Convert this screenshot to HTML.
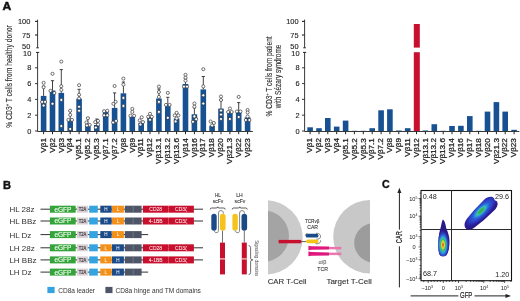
<!DOCTYPE html><html><head><meta charset="utf-8"><style>html,body{margin:0;padding:0;background:#fff;overflow:hidden}svg{display:block;will-change:transform}text{font-family:"Liberation Sans", sans-serif}</style></head><body>
<svg width="520" height="301" viewBox="0 0 520 301">
<rect width="520" height="301" fill="#fff"/>
<text transform="translate(2.5 9.8) scale(1.12 1)" font-size="10.8" font-weight="bold" fill="#111" stroke="#111" stroke-width="0.45">A</text>
<text x="3.1" y="188.6" font-size="11.1" font-weight="bold" fill="#111" stroke="#111" stroke-width="0.4">B</text>
<text x="382.1" y="188.3" font-size="10.6" font-weight="bold" fill="#111" stroke="#111" stroke-width="0.4">C</text>
<g stroke="#222" stroke-width="0.9" fill="none">
<path d="M37.6 19.6V47.6M37.6 52.5V131.5H252.9"/>
<path d="M35.0 21.4H37.6" stroke-width="1.1"/>
<path d="M35.0 35.0H37.6" stroke-width="1.1"/>
<path d="M36.3 47.8H38.9M36.0 52.4H39.2" stroke-width="1"/>
<path d="M35.0 131.0H37.6"/>
<path d="M35.0 115.2H37.6"/>
<path d="M35.0 99.4H37.6"/>
<path d="M35.0 83.6H37.6"/>
<path d="M35.0 67.8H37.6"/>
<path d="M43.6 131.5V134.2" stroke-width="1"/>
<path d="M52.5 131.5V134.2" stroke-width="1"/>
<path d="M61.3 131.5V134.2" stroke-width="1"/>
<path d="M70.2 131.5V134.2" stroke-width="1"/>
<path d="M79.1 131.5V134.2" stroke-width="1"/>
<path d="M87.9 131.5V134.2" stroke-width="1"/>
<path d="M96.8 131.5V134.2" stroke-width="1"/>
<path d="M105.7 131.5V134.2" stroke-width="1"/>
<path d="M114.6 131.5V134.2" stroke-width="1"/>
<path d="M123.4 131.5V134.2" stroke-width="1"/>
<path d="M132.3 131.5V134.2" stroke-width="1"/>
<path d="M141.2 131.5V134.2" stroke-width="1"/>
<path d="M150.0 131.5V134.2" stroke-width="1"/>
<path d="M158.9 131.5V134.2" stroke-width="1"/>
<path d="M167.8 131.5V134.2" stroke-width="1"/>
<path d="M176.6 131.5V134.2" stroke-width="1"/>
<path d="M185.5 131.5V134.2" stroke-width="1"/>
<path d="M194.4 131.5V134.2" stroke-width="1"/>
<path d="M203.3 131.5V134.2" stroke-width="1"/>
<path d="M212.1 131.5V134.2" stroke-width="1"/>
<path d="M221.0 131.5V134.2" stroke-width="1"/>
<path d="M229.9 131.5V134.2" stroke-width="1"/>
<path d="M238.7 131.5V134.2" stroke-width="1"/>
<path d="M247.6 131.5V134.2" stroke-width="1"/>
</g>
<g font-size="7.4" fill="#222" stroke="#222" stroke-width="0.12" text-anchor="end">
<text x="30.3" y="24.0">100</text>
<text x="30.3" y="37.8">75</text>
<text x="30.3" y="48.8">50</text>
<text x="31.3" y="133.6">0</text>
<text x="31.3" y="117.8">2</text>
<text x="31.3" y="102.0">4</text>
<text x="31.3" y="86.2">6</text>
<text x="31.3" y="70.4">8</text>
<text x="31.3" y="55.8">10</text>
</g>
<g font-size="7.4" fill="#222" stroke="#222" stroke-width="0.26" text-anchor="end">
<text transform="translate(45.80 138.1) rotate(-90) scale(1.1 1)">Vβ1</text>
<text transform="translate(54.67 138.1) rotate(-90) scale(1.1 1)">Vβ2</text>
<text transform="translate(63.54 138.1) rotate(-90) scale(1.1 1)">Vβ3</text>
<text transform="translate(72.41 138.1) rotate(-90) scale(1.1 1)">Vβ4</text>
<text transform="translate(81.28 138.1) rotate(-90) scale(1.1 1)">Vβ5.1</text>
<text transform="translate(90.15 138.1) rotate(-90) scale(1.1 1)">Vβ5.2</text>
<text transform="translate(99.02 138.1) rotate(-90) scale(1.1 1)">Vβ5.3</text>
<text transform="translate(107.89 138.1) rotate(-90) scale(1.1 1)">Vβ7.1</text>
<text transform="translate(116.76 138.1) rotate(-90) scale(1.1 1)">Vβ7.2</text>
<text transform="translate(125.63 138.1) rotate(-90) scale(1.1 1)">Vβ8</text>
<text transform="translate(134.50 138.1) rotate(-90) scale(1.1 1)">Vβ9</text>
<text transform="translate(143.37 138.1) rotate(-90) scale(1.1 1)">Vβ11</text>
<text transform="translate(152.24 138.1) rotate(-90) scale(1.1 1)">Vβ12</text>
<text transform="translate(161.11 138.1) rotate(-90) scale(1.1 1)">Vβ13.1</text>
<text transform="translate(169.98 138.1) rotate(-90) scale(1.1 1)">Vβ13.2</text>
<text transform="translate(178.85 138.1) rotate(-90) scale(1.1 1)">Vβ13.6</text>
<text transform="translate(187.72 138.1) rotate(-90) scale(1.1 1)">Vβ14</text>
<text transform="translate(196.59 138.1) rotate(-90) scale(1.1 1)">Vβ16</text>
<text transform="translate(205.46 138.1) rotate(-90) scale(1.1 1)">Vβ17</text>
<text transform="translate(214.33 138.1) rotate(-90) scale(1.1 1)">Vβ18</text>
<text transform="translate(223.20 138.1) rotate(-90) scale(1.1 1)">Vβ20</text>
<text transform="translate(232.07 138.1) rotate(-90) scale(1.1 1)">Vβ21.3</text>
<text transform="translate(240.94 138.1) rotate(-90) scale(1.1 1)">Vβ22</text>
<text transform="translate(249.81 138.1) rotate(-90) scale(1.1 1)">Vβ23</text>
</g>
<g>
<path d="M43.6 95.9V86.2M42.0 86.2H45.2" stroke="#222" stroke-width="0.85" fill="none"/>
<rect x="40.8" y="95.9" width="5.6" height="35.1" fill="#175192"/>
<circle cx="43.6" cy="82.8" r="1.55" fill="#fff" stroke="#2a2a2a" stroke-width="0.65"/>
<circle cx="43.6" cy="87.2" r="1.55" fill="#fff" stroke="#2a2a2a" stroke-width="0.65"/>
<circle cx="42.1" cy="101.9" r="1.55" fill="#fff" stroke="#2a2a2a" stroke-width="0.65"/>
<circle cx="45.1" cy="101.9" r="1.55" fill="#fff" stroke="#2a2a2a" stroke-width="0.65"/>
<circle cx="43.6" cy="105.5" r="1.55" fill="#fff" stroke="#2a2a2a" stroke-width="0.65"/>
<path d="M52.5 90.5V80.7M50.9 80.7H54.1" stroke="#222" stroke-width="0.85" fill="none"/>
<rect x="49.7" y="90.5" width="5.6" height="40.5" fill="#175192"/>
<circle cx="52.5" cy="73.8" r="1.55" fill="#fff" stroke="#2a2a2a" stroke-width="0.65"/>
<circle cx="50.5" cy="90.8" r="1.55" fill="#fff" stroke="#2a2a2a" stroke-width="0.65"/>
<circle cx="54.3" cy="93.0" r="1.55" fill="#fff" stroke="#2a2a2a" stroke-width="0.65"/>
<circle cx="52.5" cy="103.7" r="1.55" fill="#fff" stroke="#2a2a2a" stroke-width="0.65"/>
<path d="M61.3 92.9V69.6M59.7 69.6H62.9" stroke="#222" stroke-width="0.85" fill="none"/>
<rect x="58.5" y="92.9" width="5.6" height="38.1" fill="#175192"/>
<circle cx="61.3" cy="61.6" r="1.55" fill="#fff" stroke="#2a2a2a" stroke-width="0.65"/>
<circle cx="61.3" cy="86.2" r="1.55" fill="#fff" stroke="#2a2a2a" stroke-width="0.65"/>
<circle cx="61.3" cy="89.9" r="1.55" fill="#fff" stroke="#2a2a2a" stroke-width="0.65"/>
<circle cx="61.3" cy="99.9" r="1.55" fill="#fff" stroke="#2a2a2a" stroke-width="0.65"/>
<circle cx="61.3" cy="126.0" r="1.55" fill="#fff" stroke="#2a2a2a" stroke-width="0.65"/>
<path d="M70.2 119.7V111.0M68.6 111.0H71.8" stroke="#222" stroke-width="0.85" fill="none"/>
<rect x="67.4" y="119.7" width="5.6" height="11.3" fill="#175192"/>
<circle cx="70.2" cy="110.7" r="1.55" fill="#fff" stroke="#2a2a2a" stroke-width="0.65"/>
<circle cx="70.2" cy="114.9" r="1.55" fill="#fff" stroke="#2a2a2a" stroke-width="0.65"/>
<circle cx="68.4" cy="119.9" r="1.55" fill="#fff" stroke="#2a2a2a" stroke-width="0.65"/>
<circle cx="72.0" cy="119.9" r="1.55" fill="#fff" stroke="#2a2a2a" stroke-width="0.65"/>
<circle cx="70.2" cy="129.0" r="1.55" fill="#fff" stroke="#2a2a2a" stroke-width="0.65"/>
<path d="M79.1 98.7V89.3M77.5 89.3H80.7" stroke="#222" stroke-width="0.85" fill="none"/>
<rect x="76.3" y="98.7" width="5.6" height="32.3" fill="#175192"/>
<circle cx="79.1" cy="85.2" r="1.55" fill="#fff" stroke="#2a2a2a" stroke-width="0.65"/>
<circle cx="79.1" cy="94.7" r="1.55" fill="#fff" stroke="#2a2a2a" stroke-width="0.65"/>
<circle cx="79.1" cy="98.5" r="1.55" fill="#fff" stroke="#2a2a2a" stroke-width="0.65"/>
<circle cx="79.1" cy="106.7" r="1.55" fill="#fff" stroke="#2a2a2a" stroke-width="0.65"/>
<circle cx="79.1" cy="110.7" r="1.55" fill="#fff" stroke="#2a2a2a" stroke-width="0.65"/>
<path d="M87.9 124.5V118.0M86.3 118.0H89.5" stroke="#222" stroke-width="0.85" fill="none"/>
<rect x="85.1" y="124.5" width="5.6" height="6.5" fill="#175192"/>
<circle cx="87.9" cy="118.2" r="1.55" fill="#fff" stroke="#2a2a2a" stroke-width="0.65"/>
<circle cx="86.4" cy="122.4" r="1.55" fill="#fff" stroke="#2a2a2a" stroke-width="0.65"/>
<circle cx="89.7" cy="124.9" r="1.55" fill="#fff" stroke="#2a2a2a" stroke-width="0.65"/>
<circle cx="86.9" cy="125.5" r="1.55" fill="#fff" stroke="#2a2a2a" stroke-width="0.65"/>
<path d="M96.8 125.0V119.0M95.2 119.0H98.4" stroke="#222" stroke-width="0.85" fill="none"/>
<rect x="94.0" y="125.0" width="5.6" height="6.0" fill="#175192"/>
<circle cx="98.0" cy="120.9" r="1.55" fill="#fff" stroke="#2a2a2a" stroke-width="0.65"/>
<circle cx="95.2" cy="122.1" r="1.55" fill="#fff" stroke="#2a2a2a" stroke-width="0.65"/>
<circle cx="98.2" cy="124.5" r="1.55" fill="#fff" stroke="#2a2a2a" stroke-width="0.65"/>
<circle cx="95.8" cy="127.5" r="1.55" fill="#fff" stroke="#2a2a2a" stroke-width="0.65"/>
<rect x="102.9" y="110.9" width="5.6" height="20.1" fill="#175192"/>
<circle cx="104.1" cy="111.2" r="1.55" fill="#fff" stroke="#2a2a2a" stroke-width="0.65"/>
<circle cx="107.3" cy="110.8" r="1.55" fill="#fff" stroke="#2a2a2a" stroke-width="0.65"/>
<circle cx="104.1" cy="115.3" r="1.55" fill="#fff" stroke="#2a2a2a" stroke-width="0.65"/>
<circle cx="107.3" cy="115.3" r="1.55" fill="#fff" stroke="#2a2a2a" stroke-width="0.65"/>
<path d="M114.6 107.9V92.9M113.0 92.9H116.2" stroke="#222" stroke-width="0.85" fill="none"/>
<rect x="111.8" y="107.9" width="5.6" height="23.1" fill="#175192"/>
<circle cx="114.6" cy="86.0" r="1.55" fill="#fff" stroke="#2a2a2a" stroke-width="0.65"/>
<circle cx="115.6" cy="101.8" r="1.55" fill="#fff" stroke="#2a2a2a" stroke-width="0.65"/>
<circle cx="113.4" cy="103.8" r="1.55" fill="#fff" stroke="#2a2a2a" stroke-width="0.65"/>
<circle cx="113.1" cy="122.5" r="1.55" fill="#fff" stroke="#2a2a2a" stroke-width="0.65"/>
<circle cx="116.1" cy="120.9" r="1.55" fill="#fff" stroke="#2a2a2a" stroke-width="0.65"/>
<path d="M123.4 93.3V82.0M121.8 82.0H125.0" stroke="#222" stroke-width="0.85" fill="none"/>
<rect x="120.6" y="93.3" width="5.6" height="37.7" fill="#175192"/>
<circle cx="123.4" cy="78.6" r="1.55" fill="#fff" stroke="#2a2a2a" stroke-width="0.65"/>
<circle cx="123.4" cy="84.6" r="1.55" fill="#fff" stroke="#2a2a2a" stroke-width="0.65"/>
<circle cx="123.4" cy="97.9" r="1.55" fill="#fff" stroke="#2a2a2a" stroke-width="0.65"/>
<circle cx="123.4" cy="105.9" r="1.55" fill="#fff" stroke="#2a2a2a" stroke-width="0.65"/>
<rect x="129.5" y="116.8" width="5.6" height="14.2" fill="#175192"/>
<circle cx="132.3" cy="108.9" r="1.55" fill="#fff" stroke="#2a2a2a" stroke-width="0.65"/>
<circle cx="132.3" cy="111.9" r="1.55" fill="#fff" stroke="#2a2a2a" stroke-width="0.65"/>
<circle cx="130.5" cy="115.8" r="1.55" fill="#fff" stroke="#2a2a2a" stroke-width="0.65"/>
<circle cx="134.1" cy="115.8" r="1.55" fill="#fff" stroke="#2a2a2a" stroke-width="0.65"/>
<rect x="138.4" y="122.8" width="5.6" height="8.2" fill="#175192"/>
<circle cx="141.7" cy="117.3" r="1.55" fill="#fff" stroke="#2a2a2a" stroke-width="0.65"/>
<circle cx="139.7" cy="120.3" r="1.55" fill="#fff" stroke="#2a2a2a" stroke-width="0.65"/>
<circle cx="143.0" cy="122.1" r="1.55" fill="#fff" stroke="#2a2a2a" stroke-width="0.65"/>
<circle cx="140.4" cy="124.5" r="1.55" fill="#fff" stroke="#2a2a2a" stroke-width="0.65"/>
<rect x="147.2" y="116.8" width="5.6" height="14.2" fill="#175192"/>
<circle cx="150.0" cy="113.8" r="1.55" fill="#fff" stroke="#2a2a2a" stroke-width="0.65"/>
<circle cx="148.2" cy="116.8" r="1.55" fill="#fff" stroke="#2a2a2a" stroke-width="0.65"/>
<circle cx="151.8" cy="116.8" r="1.55" fill="#fff" stroke="#2a2a2a" stroke-width="0.65"/>
<circle cx="150.0" cy="119.8" r="1.55" fill="#fff" stroke="#2a2a2a" stroke-width="0.65"/>
<path d="M158.9 98.5V89.0M157.3 89.0H160.5" stroke="#222" stroke-width="0.85" fill="none"/>
<rect x="156.1" y="98.5" width="5.6" height="32.5" fill="#175192"/>
<circle cx="158.9" cy="86.6" r="1.55" fill="#fff" stroke="#2a2a2a" stroke-width="0.65"/>
<circle cx="158.9" cy="92.0" r="1.55" fill="#fff" stroke="#2a2a2a" stroke-width="0.65"/>
<circle cx="158.9" cy="96.9" r="1.55" fill="#fff" stroke="#2a2a2a" stroke-width="0.65"/>
<circle cx="158.9" cy="101.9" r="1.55" fill="#fff" stroke="#2a2a2a" stroke-width="0.65"/>
<circle cx="158.9" cy="111.9" r="1.55" fill="#fff" stroke="#2a2a2a" stroke-width="0.65"/>
<path d="M167.8 104.5V97.3M166.2 97.3H169.4" stroke="#222" stroke-width="0.85" fill="none"/>
<rect x="165.0" y="104.5" width="5.6" height="26.5" fill="#175192"/>
<circle cx="167.8" cy="92.9" r="1.55" fill="#fff" stroke="#2a2a2a" stroke-width="0.65"/>
<circle cx="166.0" cy="104.9" r="1.55" fill="#fff" stroke="#2a2a2a" stroke-width="0.65"/>
<circle cx="169.6" cy="104.9" r="1.55" fill="#fff" stroke="#2a2a2a" stroke-width="0.65"/>
<circle cx="167.8" cy="117.8" r="1.55" fill="#fff" stroke="#2a2a2a" stroke-width="0.65"/>
<rect x="173.8" y="118.6" width="5.6" height="12.4" fill="#175192"/>
<circle cx="176.6" cy="112.8" r="1.55" fill="#fff" stroke="#2a2a2a" stroke-width="0.65"/>
<circle cx="174.8" cy="115.4" r="1.55" fill="#fff" stroke="#2a2a2a" stroke-width="0.65"/>
<circle cx="178.4" cy="115.4" r="1.55" fill="#fff" stroke="#2a2a2a" stroke-width="0.65"/>
<circle cx="176.6" cy="118.6" r="1.55" fill="#fff" stroke="#2a2a2a" stroke-width="0.65"/>
<circle cx="175.6" cy="121.4" r="1.55" fill="#fff" stroke="#2a2a2a" stroke-width="0.65"/>
<path d="M185.5 84.0V78.2M183.9 78.2H187.1" stroke="#222" stroke-width="0.85" fill="none"/>
<rect x="182.7" y="84.0" width="5.6" height="47.0" fill="#175192"/>
<circle cx="185.5" cy="74.8" r="1.55" fill="#fff" stroke="#2a2a2a" stroke-width="0.65"/>
<circle cx="185.5" cy="77.8" r="1.55" fill="#fff" stroke="#2a2a2a" stroke-width="0.65"/>
<circle cx="185.5" cy="80.7" r="1.55" fill="#fff" stroke="#2a2a2a" stroke-width="0.65"/>
<circle cx="184.0" cy="86.6" r="1.55" fill="#fff" stroke="#2a2a2a" stroke-width="0.65"/>
<circle cx="187.0" cy="86.6" r="1.55" fill="#fff" stroke="#2a2a2a" stroke-width="0.65"/>
<path d="M194.4 114.3V107.8M192.8 107.8H196.0" stroke="#222" stroke-width="0.85" fill="none"/>
<rect x="191.6" y="114.3" width="5.6" height="16.7" fill="#175192"/>
<circle cx="194.4" cy="103.5" r="1.55" fill="#fff" stroke="#2a2a2a" stroke-width="0.65"/>
<circle cx="194.4" cy="106.7" r="1.55" fill="#fff" stroke="#2a2a2a" stroke-width="0.65"/>
<circle cx="194.4" cy="116.4" r="1.55" fill="#fff" stroke="#2a2a2a" stroke-width="0.65"/>
<circle cx="196.2" cy="119.2" r="1.55" fill="#fff" stroke="#2a2a2a" stroke-width="0.65"/>
<circle cx="192.9" cy="121.8" r="1.55" fill="#fff" stroke="#2a2a2a" stroke-width="0.65"/>
<path d="M203.3 89.4V76.5M201.7 76.5H204.9" stroke="#222" stroke-width="0.85" fill="none"/>
<rect x="200.5" y="89.4" width="5.6" height="41.6" fill="#175192"/>
<circle cx="203.3" cy="69.2" r="1.55" fill="#fff" stroke="#2a2a2a" stroke-width="0.65"/>
<circle cx="203.3" cy="86.4" r="1.55" fill="#fff" stroke="#2a2a2a" stroke-width="0.65"/>
<circle cx="203.3" cy="95.3" r="1.55" fill="#fff" stroke="#2a2a2a" stroke-width="0.65"/>
<circle cx="203.3" cy="103.5" r="1.55" fill="#fff" stroke="#2a2a2a" stroke-width="0.65"/>
<rect x="209.3" y="125.7" width="5.6" height="5.3" fill="#175192"/>
<circle cx="210.6" cy="121.5" r="1.55" fill="#fff" stroke="#2a2a2a" stroke-width="0.65"/>
<circle cx="213.9" cy="123.0" r="1.55" fill="#fff" stroke="#2a2a2a" stroke-width="0.65"/>
<circle cx="212.1" cy="125.5" r="1.55" fill="#fff" stroke="#2a2a2a" stroke-width="0.65"/>
<path d="M221.0 108.6V100.0M219.4 100.0H222.6" stroke="#222" stroke-width="0.85" fill="none"/>
<rect x="218.2" y="108.6" width="5.6" height="22.4" fill="#175192"/>
<circle cx="221.0" cy="96.5" r="1.55" fill="#fff" stroke="#2a2a2a" stroke-width="0.65"/>
<circle cx="221.0" cy="100.0" r="1.55" fill="#fff" stroke="#2a2a2a" stroke-width="0.65"/>
<circle cx="221.0" cy="110.5" r="1.55" fill="#fff" stroke="#2a2a2a" stroke-width="0.65"/>
<circle cx="221.0" cy="114.5" r="1.55" fill="#fff" stroke="#2a2a2a" stroke-width="0.65"/>
<circle cx="221.0" cy="119.0" r="1.55" fill="#fff" stroke="#2a2a2a" stroke-width="0.65"/>
<rect x="227.1" y="112.0" width="5.6" height="19.0" fill="#175192"/>
<circle cx="229.9" cy="108.5" r="1.55" fill="#fff" stroke="#2a2a2a" stroke-width="0.65"/>
<circle cx="228.1" cy="112.0" r="1.55" fill="#fff" stroke="#2a2a2a" stroke-width="0.65"/>
<circle cx="231.7" cy="112.0" r="1.55" fill="#fff" stroke="#2a2a2a" stroke-width="0.65"/>
<circle cx="229.9" cy="119.0" r="1.55" fill="#fff" stroke="#2a2a2a" stroke-width="0.65"/>
<path d="M238.7 111.4V102.6M237.1 102.6H240.3" stroke="#222" stroke-width="0.85" fill="none"/>
<rect x="235.9" y="111.4" width="5.6" height="19.6" fill="#175192"/>
<circle cx="238.7" cy="96.9" r="1.55" fill="#fff" stroke="#2a2a2a" stroke-width="0.65"/>
<circle cx="236.9" cy="111.5" r="1.55" fill="#fff" stroke="#2a2a2a" stroke-width="0.65"/>
<circle cx="240.5" cy="111.5" r="1.55" fill="#fff" stroke="#2a2a2a" stroke-width="0.65"/>
<circle cx="238.7" cy="117.0" r="1.55" fill="#fff" stroke="#2a2a2a" stroke-width="0.65"/>
<rect x="244.8" y="117.3" width="5.6" height="13.7" fill="#175192"/>
<circle cx="247.6" cy="110.0" r="1.55" fill="#fff" stroke="#2a2a2a" stroke-width="0.65"/>
<circle cx="247.6" cy="112.5" r="1.55" fill="#fff" stroke="#2a2a2a" stroke-width="0.65"/>
<circle cx="247.6" cy="116.5" r="1.55" fill="#fff" stroke="#2a2a2a" stroke-width="0.65"/>
<circle cx="245.8" cy="120.0" r="1.55" fill="#fff" stroke="#2a2a2a" stroke-width="0.65"/>
<circle cx="249.4" cy="120.0" r="1.55" fill="#fff" stroke="#2a2a2a" stroke-width="0.65"/>
</g>
<g stroke="#222" stroke-width="0.9" fill="none">
<path d="M304.6 19.6V47.6M304.6 52.5V131.5H519.4"/>
<path d="M302.0 21.4H304.6" stroke-width="1.1"/>
<path d="M302.0 35.0H304.6" stroke-width="1.1"/>
<path d="M303.3 47.8H305.9M303.0 52.4H306.2" stroke-width="1"/>
<path d="M302.0 131.0H304.6"/>
<path d="M302.0 115.2H304.6"/>
<path d="M302.0 99.4H304.6"/>
<path d="M302.0 83.6H304.6"/>
<path d="M302.0 67.8H304.6"/>
<path d="M310.1 131.5V134.2" stroke-width="1"/>
<path d="M319.0 131.5V134.2" stroke-width="1"/>
<path d="M327.8 131.5V134.2" stroke-width="1"/>
<path d="M336.7 131.5V134.2" stroke-width="1"/>
<path d="M345.6 131.5V134.2" stroke-width="1"/>
<path d="M354.4 131.5V134.2" stroke-width="1"/>
<path d="M363.3 131.5V134.2" stroke-width="1"/>
<path d="M372.2 131.5V134.2" stroke-width="1"/>
<path d="M381.1 131.5V134.2" stroke-width="1"/>
<path d="M389.9 131.5V134.2" stroke-width="1"/>
<path d="M398.8 131.5V134.2" stroke-width="1"/>
<path d="M407.7 131.5V134.2" stroke-width="1"/>
<path d="M416.5 131.5V134.2" stroke-width="1"/>
<path d="M425.4 131.5V134.2" stroke-width="1"/>
<path d="M434.3 131.5V134.2" stroke-width="1"/>
<path d="M443.2 131.5V134.2" stroke-width="1"/>
<path d="M452.0 131.5V134.2" stroke-width="1"/>
<path d="M460.9 131.5V134.2" stroke-width="1"/>
<path d="M469.8 131.5V134.2" stroke-width="1"/>
<path d="M478.6 131.5V134.2" stroke-width="1"/>
<path d="M487.5 131.5V134.2" stroke-width="1"/>
<path d="M496.4 131.5V134.2" stroke-width="1"/>
<path d="M505.2 131.5V134.2" stroke-width="1"/>
<path d="M514.1 131.5V134.2" stroke-width="1"/>
</g>
<g font-size="7.4" fill="#222" stroke="#222" stroke-width="0.12" text-anchor="end">
<text x="298.5" y="24.0">100</text>
<text x="298.5" y="37.8">75</text>
<text x="298.5" y="48.8">50</text>
<text x="299.5" y="133.6">0</text>
<text x="299.5" y="117.8">2</text>
<text x="299.5" y="102.0">4</text>
<text x="299.5" y="86.2">6</text>
<text x="299.5" y="70.4">8</text>
<text x="299.5" y="55.8">10</text>
</g>
<g font-size="7.4" fill="#222" stroke="#222" stroke-width="0.26" text-anchor="end">
<text transform="translate(312.30 138.1) rotate(-90) scale(1.1 1)">Vβ1</text>
<text transform="translate(321.17 138.1) rotate(-90) scale(1.1 1)">Vβ2</text>
<text transform="translate(330.04 138.1) rotate(-90) scale(1.1 1)">Vβ3</text>
<text transform="translate(338.91 138.1) rotate(-90) scale(1.1 1)">Vβ4</text>
<text transform="translate(347.78 138.1) rotate(-90) scale(1.1 1)">Vβ5.1</text>
<text transform="translate(356.65 138.1) rotate(-90) scale(1.1 1)">Vβ5.2</text>
<text transform="translate(365.52 138.1) rotate(-90) scale(1.1 1)">Vβ5.3</text>
<text transform="translate(374.39 138.1) rotate(-90) scale(1.1 1)">Vβ7.1</text>
<text transform="translate(383.26 138.1) rotate(-90) scale(1.1 1)">Vβ7.2</text>
<text transform="translate(392.13 138.1) rotate(-90) scale(1.1 1)">Vβ8</text>
<text transform="translate(401.00 138.1) rotate(-90) scale(1.1 1)">Vβ9</text>
<text transform="translate(409.87 138.1) rotate(-90) scale(1.1 1)">Vβ11</text>
<text transform="translate(418.74 138.1) rotate(-90) scale(1.1 1)">Vβ12</text>
<text transform="translate(427.61 138.1) rotate(-90) scale(1.1 1)">Vβ13.1</text>
<text transform="translate(436.48 138.1) rotate(-90) scale(1.1 1)">Vβ13.2</text>
<text transform="translate(445.35 138.1) rotate(-90) scale(1.1 1)">Vβ13.6</text>
<text transform="translate(454.22 138.1) rotate(-90) scale(1.1 1)">Vβ14</text>
<text transform="translate(463.09 138.1) rotate(-90) scale(1.1 1)">Vβ16</text>
<text transform="translate(471.96 138.1) rotate(-90) scale(1.1 1)">Vβ17</text>
<text transform="translate(480.83 138.1) rotate(-90) scale(1.1 1)">Vβ18</text>
<text transform="translate(489.70 138.1) rotate(-90) scale(1.1 1)">Vβ20</text>
<text transform="translate(498.57 138.1) rotate(-90) scale(1.1 1)">Vβ21.3</text>
<text transform="translate(507.44 138.1) rotate(-90) scale(1.1 1)">Vβ22</text>
<text transform="translate(516.31 138.1) rotate(-90) scale(1.1 1)">Vβ23</text>
</g>
<g>
<rect x="307.3" y="127.3" width="5.6" height="3.7" fill="#175192"/>
<rect x="316.2" y="128.2" width="5.6" height="2.8" fill="#175192"/>
<rect x="325.0" y="118.0" width="5.6" height="13.0" fill="#175192"/>
<rect x="333.9" y="126.6" width="5.6" height="4.4" fill="#175192"/>
<rect x="342.8" y="120.6" width="5.6" height="10.4" fill="#175192"/>
<rect x="351.6" y="130.8" width="5.6" height="0.2" fill="#175192"/>
<rect x="360.5" y="130.8" width="5.6" height="0.2" fill="#175192"/>
<rect x="369.4" y="128.2" width="5.6" height="2.8" fill="#175192"/>
<rect x="378.3" y="110.3" width="5.6" height="20.7" fill="#175192"/>
<rect x="387.1" y="109.3" width="5.6" height="21.7" fill="#175192"/>
<rect x="396.0" y="130.5" width="5.6" height="0.5" fill="#175192"/>
<rect x="404.9" y="128.2" width="5.6" height="2.8" fill="#175192"/>
<rect x="413.8" y="24" width="6" height="107.0" fill="#c8102e"/>
<rect x="412" y="47.6" width="10" height="4.6" fill="#fff"/>
<rect x="422.6" y="130.5" width="5.6" height="0.5" fill="#175192"/>
<rect x="431.5" y="124.2" width="5.6" height="6.8" fill="#175192"/>
<rect x="440.4" y="130.8" width="5.6" height="0.2" fill="#175192"/>
<rect x="449.2" y="126.0" width="5.6" height="5.0" fill="#175192"/>
<rect x="458.1" y="125.8" width="5.6" height="5.2" fill="#175192"/>
<rect x="467.0" y="116.1" width="5.6" height="14.9" fill="#175192"/>
<rect x="475.8" y="130.8" width="5.6" height="0.2" fill="#175192"/>
<rect x="484.7" y="111.6" width="5.6" height="19.4" fill="#175192"/>
<rect x="493.6" y="102.1" width="5.6" height="28.9" fill="#175192"/>
<rect x="502.4" y="111.6" width="5.6" height="19.4" fill="#175192"/>
<rect x="511.3" y="129.8" width="5.6" height="1.2" fill="#175192"/>
</g>
<text transform="translate(11.5 76.4) rotate(-90)" font-size="8.4" fill="#333" stroke="#333" stroke-width="0.15" text-anchor="middle" textLength="102.5" lengthAdjust="spacingAndGlyphs">% CD3<tspan font-size="5" dy="-2.5">+</tspan><tspan dy="2.5"> T cells from healthy donor</tspan></text>
<text transform="translate(271.6 76.4) rotate(-90)" font-size="8.4" fill="#333" stroke="#333" stroke-width="0.15" text-anchor="middle" textLength="80.2" lengthAdjust="spacingAndGlyphs">% CD3<tspan font-size="5" dy="-2.5">+</tspan><tspan dy="2.5"> T cells from patient</tspan></text>
<text transform="translate(280.6 76.4) rotate(-90)" font-size="8.4" fill="#333" stroke="#333" stroke-width="0.15" text-anchor="middle" textLength="63.6" lengthAdjust="spacingAndGlyphs">with Sézary syndrome</text>
<text x="9.4" y="212.1" font-size="8" fill="#333">HL 28z</text>
<path d="M40.5 209.2H203.0" stroke="#333" stroke-width="1"/>
<rect x="49.9" y="205.7" width="25.8" height="7.0" fill="#33a33a"/>
<text x="62.9" y="211.6" font-size="6.8" fill="#f2fff2" stroke="#f2fff2" stroke-width="0.15" text-anchor="middle" textLength="17" lengthAdjust="spacingAndGlyphs">eGFP</text>
<rect x="76.9" y="205.7" width="11" height="7.0" fill="#d8ced4"/>
<text x="82.5" y="211.0" font-size="5" fill="#333" stroke="#333" stroke-width="0.15" text-anchor="middle" textLength="7.6" lengthAdjust="spacingAndGlyphs">T2A</text>
<rect x="89.2" y="205.7" width="8.6" height="7.0" fill="#35a3e0"/>
<rect x="100.3" y="205.7" width="11.4" height="7.0" fill="#1a4a88"/>
<rect x="112.0" y="205.7" width="11.9" height="7.0" fill="#f39019"/>
<text x="105.9" y="210.9" font-size="4.6" fill="#fff" text-anchor="middle">H</text>
<text x="118" y="210.9" font-size="4.6" fill="#fff" text-anchor="middle">L</text>
<rect x="124.8" y="205.7" width="16.8" height="7.0" fill="#4d5566"/>
<path d="M133.2 205.7v7.0" stroke="#8e95a2" stroke-width="0.5"/>
<rect x="142.9" y="205.7" width="51" height="7.0" fill="#c8102e"/>
<path d="M168.5 205.7V212.7" stroke="#fff" stroke-width="0.5" stroke-dasharray="1 1"/>
<text x="155.7" y="211.0" font-size="5" fill="#fff" text-anchor="middle">CD28</text>
<text x="181.2" y="211.0" font-size="5" fill="#fff" text-anchor="middle">CD3ζ</text>
<text x="9.4" y="223.9" font-size="8" fill="#333">HL BBz</text>
<path d="M40.5 221.0H203.0" stroke="#333" stroke-width="1"/>
<rect x="49.9" y="217.5" width="25.8" height="7.0" fill="#33a33a"/>
<text x="62.9" y="223.4" font-size="6.8" fill="#f2fff2" stroke="#f2fff2" stroke-width="0.15" text-anchor="middle" textLength="17" lengthAdjust="spacingAndGlyphs">eGFP</text>
<rect x="76.9" y="217.5" width="11" height="7.0" fill="#d8ced4"/>
<text x="82.5" y="222.8" font-size="5" fill="#333" stroke="#333" stroke-width="0.15" text-anchor="middle" textLength="7.6" lengthAdjust="spacingAndGlyphs">T2A</text>
<rect x="89.2" y="217.5" width="8.6" height="7.0" fill="#35a3e0"/>
<rect x="100.3" y="217.5" width="11.4" height="7.0" fill="#1a4a88"/>
<rect x="112.0" y="217.5" width="11.9" height="7.0" fill="#f39019"/>
<text x="105.9" y="222.7" font-size="4.6" fill="#fff" text-anchor="middle">H</text>
<text x="118" y="222.7" font-size="4.6" fill="#fff" text-anchor="middle">L</text>
<rect x="124.8" y="217.5" width="16.8" height="7.0" fill="#4d5566"/>
<path d="M133.2 217.5v7.0" stroke="#8e95a2" stroke-width="0.5"/>
<rect x="142.9" y="217.5" width="51" height="7.0" fill="#c8102e"/>
<path d="M168.5 217.5V224.5" stroke="#fff" stroke-width="0.5" stroke-dasharray="1 1"/>
<text x="155.7" y="222.8" font-size="5" fill="#fff" text-anchor="middle">4-1BB</text>
<text x="181.2" y="222.8" font-size="5" fill="#fff" text-anchor="middle">CD3ζ</text>
<text x="9.4" y="237.5" font-size="8" fill="#333">HL Dz</text>
<path d="M40.5 234.6H148.2" stroke="#333" stroke-width="1"/>
<rect x="49.9" y="231.1" width="25.8" height="7.0" fill="#33a33a"/>
<text x="62.9" y="237.0" font-size="6.8" fill="#f2fff2" stroke="#f2fff2" stroke-width="0.15" text-anchor="middle" textLength="17" lengthAdjust="spacingAndGlyphs">eGFP</text>
<rect x="76.9" y="231.1" width="11" height="7.0" fill="#d8ced4"/>
<text x="82.5" y="236.4" font-size="5" fill="#333" stroke="#333" stroke-width="0.15" text-anchor="middle" textLength="7.6" lengthAdjust="spacingAndGlyphs">T2A</text>
<rect x="89.2" y="231.1" width="8.6" height="7.0" fill="#35a3e0"/>
<rect x="100.3" y="231.1" width="11.4" height="7.0" fill="#1a4a88"/>
<rect x="112.0" y="231.1" width="11.9" height="7.0" fill="#f39019"/>
<text x="105.9" y="236.3" font-size="4.6" fill="#fff" text-anchor="middle">H</text>
<text x="118" y="236.3" font-size="4.6" fill="#fff" text-anchor="middle">L</text>
<rect x="124.8" y="231.1" width="16.8" height="7.0" fill="#4d5566"/>
<path d="M133.2 231.1v7.0" stroke="#8e95a2" stroke-width="0.5"/>
<text x="9.4" y="250.7" font-size="8" fill="#333">LH 28z</text>
<path d="M40.5 247.8H203.0" stroke="#333" stroke-width="1"/>
<rect x="49.9" y="244.3" width="25.8" height="7.0" fill="#33a33a"/>
<text x="62.9" y="250.2" font-size="6.8" fill="#f2fff2" stroke="#f2fff2" stroke-width="0.15" text-anchor="middle" textLength="17" lengthAdjust="spacingAndGlyphs">eGFP</text>
<rect x="76.9" y="244.3" width="11" height="7.0" fill="#d8ced4"/>
<text x="82.5" y="249.6" font-size="5" fill="#333" stroke="#333" stroke-width="0.15" text-anchor="middle" textLength="7.6" lengthAdjust="spacingAndGlyphs">T2A</text>
<rect x="89.2" y="244.3" width="8.6" height="7.0" fill="#35a3e0"/>
<rect x="100.3" y="244.3" width="11.4" height="7.0" fill="#f39019"/>
<rect x="112.0" y="244.3" width="11.9" height="7.0" fill="#1a4a88"/>
<text x="105.9" y="249.5" font-size="4.6" fill="#fff" text-anchor="middle">L</text>
<text x="118" y="249.5" font-size="4.6" fill="#fff" text-anchor="middle">H</text>
<rect x="124.8" y="244.3" width="16.8" height="7.0" fill="#4d5566"/>
<path d="M133.2 244.3v7.0" stroke="#8e95a2" stroke-width="0.5"/>
<rect x="142.9" y="244.3" width="51" height="7.0" fill="#c8102e"/>
<path d="M168.5 244.3V251.3" stroke="#fff" stroke-width="0.5" stroke-dasharray="1 1"/>
<text x="155.7" y="249.6" font-size="5" fill="#fff" text-anchor="middle">CD28</text>
<text x="181.2" y="249.6" font-size="5" fill="#fff" text-anchor="middle">CD3ζ</text>
<text x="9.4" y="262.8" font-size="8" fill="#333">LH BBz</text>
<path d="M40.5 259.9H203.0" stroke="#333" stroke-width="1"/>
<rect x="49.9" y="256.4" width="25.8" height="7.0" fill="#33a33a"/>
<text x="62.9" y="262.3" font-size="6.8" fill="#f2fff2" stroke="#f2fff2" stroke-width="0.15" text-anchor="middle" textLength="17" lengthAdjust="spacingAndGlyphs">eGFP</text>
<rect x="76.9" y="256.4" width="11" height="7.0" fill="#d8ced4"/>
<text x="82.5" y="261.7" font-size="5" fill="#333" stroke="#333" stroke-width="0.15" text-anchor="middle" textLength="7.6" lengthAdjust="spacingAndGlyphs">T2A</text>
<rect x="89.2" y="256.4" width="8.6" height="7.0" fill="#35a3e0"/>
<rect x="100.3" y="256.4" width="11.4" height="7.0" fill="#f39019"/>
<rect x="112.0" y="256.4" width="11.9" height="7.0" fill="#1a4a88"/>
<text x="105.9" y="261.6" font-size="4.6" fill="#fff" text-anchor="middle">L</text>
<text x="118" y="261.6" font-size="4.6" fill="#fff" text-anchor="middle">H</text>
<rect x="124.8" y="256.4" width="16.8" height="7.0" fill="#4d5566"/>
<path d="M133.2 256.4v7.0" stroke="#8e95a2" stroke-width="0.5"/>
<rect x="142.9" y="256.4" width="51" height="7.0" fill="#c8102e"/>
<path d="M168.5 256.4V263.4" stroke="#fff" stroke-width="0.5" stroke-dasharray="1 1"/>
<text x="155.7" y="261.7" font-size="5" fill="#fff" text-anchor="middle">4-1BB</text>
<text x="181.2" y="261.7" font-size="5" fill="#fff" text-anchor="middle">CD3ζ</text>
<text x="9.4" y="275.0" font-size="8" fill="#333">LH Dz</text>
<path d="M40.5 272.1H148.2" stroke="#333" stroke-width="1"/>
<rect x="49.9" y="268.6" width="25.8" height="7.0" fill="#33a33a"/>
<text x="62.9" y="274.5" font-size="6.8" fill="#f2fff2" stroke="#f2fff2" stroke-width="0.15" text-anchor="middle" textLength="17" lengthAdjust="spacingAndGlyphs">eGFP</text>
<rect x="76.9" y="268.6" width="11" height="7.0" fill="#d8ced4"/>
<text x="82.5" y="273.9" font-size="5" fill="#333" stroke="#333" stroke-width="0.15" text-anchor="middle" textLength="7.6" lengthAdjust="spacingAndGlyphs">T2A</text>
<rect x="89.2" y="268.6" width="8.6" height="7.0" fill="#35a3e0"/>
<rect x="100.3" y="268.6" width="11.4" height="7.0" fill="#f39019"/>
<rect x="112.0" y="268.6" width="11.9" height="7.0" fill="#1a4a88"/>
<text x="105.9" y="273.8" font-size="4.6" fill="#fff" text-anchor="middle">L</text>
<text x="118" y="273.8" font-size="4.6" fill="#fff" text-anchor="middle">H</text>
<rect x="124.8" y="268.6" width="16.8" height="7.0" fill="#4d5566"/>
<path d="M133.2 268.6v7.0" stroke="#8e95a2" stroke-width="0.5"/>
<rect x="47.4" y="286.9" width="7.2" height="6.2" fill="#35a3e0"/>
<text x="58.2" y="292.8" font-size="8" fill="#333" textLength="36.8" lengthAdjust="spacingAndGlyphs">CD8a leader</text>
<rect x="105.4" y="286.9" width="7.1" height="6.2" fill="#4d5566"/>
<text x="115.4" y="292.8" font-size="8" fill="#333" textLength="85.5" lengthAdjust="spacingAndGlyphs">CD8a hinge and TM domains</text>
<g font-size="5.8" fill="#333" stroke="#333" stroke-width="0.1" text-anchor="middle">
<text x="217.9" y="196.9" textLength="6" lengthAdjust="spacingAndGlyphs">HL</text><text x="218" y="202.9" textLength="10.5" lengthAdjust="spacingAndGlyphs">scFv</text>
<text x="239.5" y="196.9" textLength="6.5" lengthAdjust="spacingAndGlyphs">LH</text><text x="240" y="202.9" textLength="10.9" lengthAdjust="spacingAndGlyphs">scFv</text>
</g>
<g stroke="#333" stroke-width="0.8" fill="none">
<path d="M210.2 209.5q0-1.5 1.5-1.5h4.5q1.5 0 1.5-1.2q0 1.2 1.5 1.2h4.5q1.5 0 1.5 1.5"/>
<path d="M232.2 209.5q0-1.5 1.5-1.5h4.5q1.5 0 1.5-1.2q0 1.2 1.5 1.2h4.5q1.5 0 1.5 1.5"/>
</g>
<rect x="211.3" y="213.7" width="5.4" height="17.1" rx="2.7" fill="#1a4a88"/>
<rect x="220.0" y="213.7" width="5.6" height="17.1" rx="2.8" fill="#f6c21c"/>
<path d="M214.0 230.6Q215.0 233.5 217.5 232.6Q218.5 232 218.5 229V213Q218.5 210.5 221.0 210.5Q223.5 210.5 223.5 213.6" stroke="#6a6a6a" stroke-width="0.8" fill="none"/>
<path d="M222.5 230.8V242.6" stroke="#333" stroke-width="0.7"/>
<rect x="220.0" y="242.6" width="5" height="31.8" fill="#c8102e"/>
<rect x="220.0" y="258.3" width="5" height="1.2" fill="#fff" opacity="0.8"/>
<rect x="232.4" y="213.7" width="5.4" height="17.1" rx="2.7" fill="#f6c21c"/>
<rect x="241.5" y="213.7" width="5.6" height="17.1" rx="2.8" fill="#1a4a88"/>
<path d="M235.1 230.6Q236.1 233.5 238.6 232.6Q239.6 232 239.6 229V213Q239.6 210.5 242.1 210.5Q244.6 210.5 244.6 213.6" stroke="#6a6a6a" stroke-width="0.8" fill="none"/>
<path d="M244.3 230.8V242.6" stroke="#333" stroke-width="0.7"/>
<rect x="241.8" y="242.6" width="5" height="31.8" fill="#c8102e"/>
<rect x="241.8" y="258.3" width="5" height="1.2" fill="#fff" opacity="0.8"/>
<path d="M248.6 245.6q2 0 2 2v10.4q0 1.9 2.2 1.9q-2.2 0-2.2 1.9v10.8q0 2-2 2" stroke="#333" stroke-width="0.7" fill="none"/>
<text transform="translate(255.4 258.2) rotate(90)" font-size="6.1" fill="#555" text-anchor="middle" textLength="36" lengthAdjust="spacingAndGlyphs">Signaling domains</text>
<defs><clipPath id="cl"><rect x="268" y="190" width="60" height="100"/></clipPath><clipPath id="cr"><rect x="320" y="190" width="50" height="100"/></clipPath></defs>
<g clip-path="url(#cl)"><circle cx="265.4" cy="237.4" r="37.3" fill="#cbcbcb"/><circle cx="263.3" cy="236" r="25.7" fill="#a4a4a4"/></g>
<g clip-path="url(#cr)"><circle cx="370" cy="236.8" r="36.8" fill="#c8c8c8"/><circle cx="373.8" cy="242.8" r="19.6" fill="#9c9c9c"/></g>
<rect x="278.6" y="239.9" width="22.6" height="3.4" fill="#c8102e"/>
<path d="M301 241.6H306" stroke="#333" stroke-width="0.8"/>
<rect x="305.6" y="233.8" width="12.9" height="3.8" rx="1.9" fill="#1a4a88"/>
<rect x="306.1" y="239.4" width="12.4" height="3.8" rx="1.9" fill="#f6c21c"/>
<path d="M316 233.3C319.8 233.1 321.2 235.5 320.3 237.6C319.6 239 318 239.1 316.5 239.1" stroke="#333" stroke-width="0.6" fill="none"/>
<path d="M315.5 243.7C319 243.9 321 242.8 320.6 240.3" stroke="#333" stroke-width="0.6" fill="none"/>
<path d="M307.5 233.4C306 233.5 305.2 234.5 305.2 235.5" stroke="#333" stroke-width="0.5" fill="none"/>
<text x="312.2" y="222.5" font-size="5.6" fill="#333" stroke="#333" stroke-width="0.1" text-anchor="middle" textLength="14.6" lengthAdjust="spacingAndGlyphs">TCRvβ</text>
<text x="312.6" y="229.0" font-size="5.6" fill="#333" stroke="#333" stroke-width="0.1" text-anchor="middle" textLength="10.8" lengthAdjust="spacingAndGlyphs">CAR</text>
<path d="M308.4 245.7L311.5 246.2L329 246.6V249.6L311.5 249.7L308.4 250.2Z" fill="#e0177c"/>
<rect x="329" y="247.0" width="12.3" height="2.1" fill="#ee82b6"/>
<path d="M329 247.30H341.3M329 248.90H341.3" stroke="#e65a9c" stroke-width="0.5"/>
<path d="M308.4 251.5L311.5 252.0L329 252.4V255.4L311.5 255.8L308.4 256.3Z" fill="#e0177c"/>
<rect x="329" y="252.8" width="12.3" height="2.1" fill="#ee82b6"/>
<path d="M329 253.10H341.3M329 254.70H341.3" stroke="#e65a9c" stroke-width="0.5"/>
<text x="322.4" y="264.4" font-size="5.5" fill="#333" text-anchor="middle">α/β</text>
<text x="322.6" y="270.6" font-size="6" fill="#333" stroke="#333" stroke-width="0.1" text-anchor="middle" textLength="10.6" lengthAdjust="spacingAndGlyphs">TCR</text>
<text x="267.7" y="284.4" font-size="8" fill="#333" stroke="#333" stroke-width="0.12" textLength="38.9" lengthAdjust="spacingAndGlyphs">CAR T-Cell</text>
<text x="326.4" y="284.4" font-size="8" fill="#333" stroke="#333" stroke-width="0.12" textLength="45.3" lengthAdjust="spacingAndGlyphs">Target T-Cell</text>
<defs>
<radialGradient id="g1"><stop offset="0" stop-color="#e0281c"/><stop offset="0.08" stop-color="#ee6a1e"/><stop offset="0.16" stop-color="#f0b020"/><stop offset="0.25" stop-color="#d8d830"/><stop offset="0.38" stop-color="#40bc5c"/><stop offset="0.52" stop-color="#2eb6cc"/><stop offset="0.68" stop-color="#2d64d8"/><stop offset="0.84" stop-color="#2c34b4"/><stop offset="1" stop-color="#2a1a88"/></radialGradient>
<radialGradient id="g2" cx="0.56" cy="0.4" r="0.55" fx="0.56" fy="0.4"><stop offset="0" stop-color="#37a84a"/><stop offset="0.17" stop-color="#3cb85c"/><stop offset="0.25" stop-color="#36c0b8"/><stop offset="0.33" stop-color="#2c98dc"/><stop offset="0.48" stop-color="#2e5ad8"/><stop offset="0.7" stop-color="#2c3cc0"/><stop offset="0.86" stop-color="#2c22a0"/><stop offset="1" stop-color="#2a1a88"/></radialGradient>
</defs>
<rect x="421" y="190.5" width="90.5" height="90.2" fill="none" stroke="#111" stroke-width="1.1"/>
<path d="M451.5 190.5V280.5M421.2 229.5H511.5" stroke="#2a2a2a" stroke-width="1"/>
<g transform="translate(480.3 213.9) rotate(-44)">
<path d="M-20.5 0.8C-20.5 -2.8 -17 -5.6 -12 -6L-2 -7.1L13 -7.6C18 -7.6 20.8 -4.5 20.8 -2L19.9 0.2L20.6 2C20.6 4.6 18 7 13 7.2L-2 6.9L-12 5.9C-17 5.5 -20.5 4 -20.5 0.8Z" fill="url(#g2)"/>
</g>
<clipPath id="cb"><path d="M443 219.6C444.5 220.5 445.5 224 446.2 228C447.8 232 449.5 236 449.5 241C449.5 247 448.5 252 446.5 255C445 256.8 441 256.8 439.8 255C438.3 252 438.2 247 438.4 242C438.6 236 439.5 231 440.8 227C441.6 223.5 442 220.5 443 219.6Z"/></clipPath>
<path d="M443 219.6C444.5 220.5 445.5 224 446.2 228C447.8 232 449.5 236 449.5 241C449.5 247 448.5 252 446.5 255C445 256.8 441 256.8 439.8 255C438.3 252 438.2 247 438.4 242C438.6 236 439.5 231 440.8 227C441.6 223.5 442 220.5 443 219.6Z" fill="#2a1a88"/>
<ellipse cx="443" cy="244.8" rx="6.2" ry="14.5" fill="url(#g1)" clip-path="url(#cb)"/>
<g font-size="7.2" fill="#222">
<text x="422.8" y="199">0.48</text>
<text x="509" y="199" text-anchor="end">29.6</text>
<text x="423" y="276.4">68.7</text>
<text x="509.2" y="276.7" text-anchor="end">1.20</text>
</g>
<g stroke="#1a1a1a" stroke-width="0.7">
<path d="M418.6 198.5H421.2"/>
<path d="M418.6 216.2H421.2"/>
<path d="M418.6 236.7H421.2"/>
<path d="M418.6 246.9H421.2"/>
<path d="M418.6 259.8H421.2"/>
<path d="M418.6 278.7H421.2"/>
<path d="M419.6 210.9H421.2"/>
<path d="M419.6 230.5H421.2"/>
<path d="M419.6 265.5H421.2"/>
<path d="M419.6 207.8H421.2"/>
<path d="M419.6 226.9H421.2"/>
<path d="M419.6 268.8H421.2"/>
<path d="M419.6 205.5H421.2"/>
<path d="M419.6 224.4H421.2"/>
<path d="M419.6 271.2H421.2"/>
<path d="M419.6 203.8H421.2"/>
<path d="M419.6 222.4H421.2"/>
<path d="M419.6 273.0H421.2"/>
<path d="M419.6 202.4H421.2"/>
<path d="M419.6 220.7H421.2"/>
<path d="M419.6 274.5H421.2"/>
<path d="M419.6 201.2H421.2"/>
<path d="M419.6 219.4H421.2"/>
<path d="M419.6 275.8H421.2"/>
<path d="M419.6 200.2H421.2"/>
<path d="M419.6 218.2H421.2"/>
<path d="M419.6 276.9H421.2"/>
<path d="M419.6 199.3H421.2"/>
<path d="M419.6 217.1H421.2"/>
<path d="M419.6 277.8H421.2"/>
<path d="M419.6 193.2H421.2"/>
<path d="M419.6 244.9H421.2"/>
<path d="M419.6 249.5H421.2"/>
<path d="M419.6 242.8H421.2"/>
<path d="M419.6 252.1H421.2"/>
<path d="M419.6 240.8H421.2"/>
<path d="M419.6 254.6H421.2"/>
<path d="M419.6 238.7H421.2"/>
<path d="M419.6 257.2H421.2"/>
<path d="M428.2 280.5V283"/>
<path d="M443.3 280.5V283"/>
<path d="M458.5 280.5V283"/>
<path d="M483.8 280.5V283"/>
<path d="M504.6 280.5V283"/>
<path d="M466.1 280.5V282"/>
<path d="M490.1 280.5V282"/>
<path d="M423.7 280.5V282"/>
<path d="M470.6 280.5V282"/>
<path d="M493.7 280.5V282"/>
<path d="M473.7 280.5V282"/>
<path d="M496.3 280.5V282"/>
<path d="M476.2 280.5V282"/>
<path d="M498.3 280.5V282"/>
<path d="M478.2 280.5V282"/>
<path d="M500.0 280.5V282"/>
<path d="M479.9 280.5V282"/>
<path d="M501.4 280.5V282"/>
<path d="M481.3 280.5V282"/>
<path d="M502.6 280.5V282"/>
<path d="M482.6 280.5V282"/>
<path d="M503.6 280.5V282"/>
<path d="M510.9 280.5V282"/>
<path d="M440.3 280.5V282"/>
<path d="M446.3 280.5V282"/>
<path d="M437.3 280.5V282"/>
<path d="M449.4 280.5V282"/>
<path d="M434.2 280.5V282"/>
<path d="M452.4 280.5V282"/>
<path d="M431.2 280.5V282"/>
<path d="M455.5 280.5V282"/>
</g>
<g font-size="5.6" fill="#222" text-anchor="end">
<text x="417.4" y="200.5">10<tspan dy="-2" font-size="3.5">5</tspan></text>
<text x="417.4" y="218.2">10<tspan dy="-2" font-size="3.5">4</tspan></text>
<text x="417.4" y="238.7">10<tspan dy="-2" font-size="3.5">3</tspan></text>
<text x="415.6" y="248.9">0</text>
<text x="417.4" y="261.8">−10<tspan dy="-2" font-size="3.5">3</tspan></text>
<text x="417.4" y="280.7">−10<tspan dy="-2" font-size="3.5">4</tspan></text>
</g>
<g font-size="5.6" fill="#222" text-anchor="middle">
<text x="427.2" y="289.8">−10<tspan dy="-2" font-size="3.5">3</tspan></text>
<text x="443.3" y="289.8">0</text>
<text x="458.8" y="289.8">10<tspan dy="-2" font-size="3.5">3</tspan></text>
<text x="484.0" y="289.8">10<tspan dy="-2" font-size="3.5">4</tspan></text>
<text x="504.8" y="289.8">10<tspan dy="-2" font-size="3.5">5</tspan></text>
</g>
<path d="M399.4 246.3V287.4" stroke="#222" stroke-width="1"/>
<path d="M399.4 190.5V229.6" stroke="#222" stroke-width="1"/>
<path d="M399.4 187.8L397.4 193L401.4 193Z" fill="#222"/>
<text transform="translate(401.9 237.2) rotate(-90)" font-size="9.2" fill="#222" stroke="#222" stroke-width="0.2" text-anchor="middle" textLength="11.9" lengthAdjust="spacingAndGlyphs">CAR</text>
<path d="M410.6 295.9H458.4M474.5 295.9H506" stroke="#222" stroke-width="1"/>
<path d="M511 295.9L505.5 293.9L505.5 297.9Z" fill="#222"/>
<text x="466.2" y="298.3" font-size="9.2" fill="#222" stroke="#222" stroke-width="0.2" text-anchor="middle" textLength="12.3" lengthAdjust="spacingAndGlyphs">GFP</text>
</svg></body></html>
